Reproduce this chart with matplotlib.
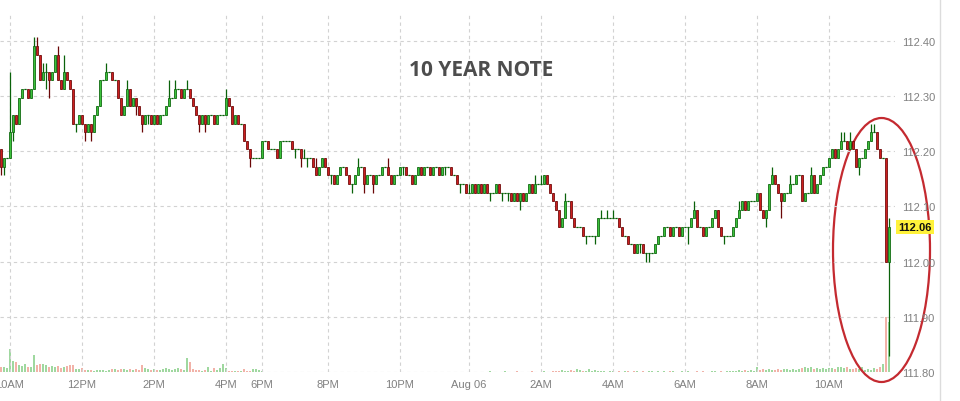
import numpy as np
import matplotlib.pyplot as plt
from matplotlib.patches import Ellipse
from matplotlib.lines import Line2D

# 5-minute bars, prices in 64ths above 112.00
first_open = 13
closes = [
    11, 12, 12, 15, 17, 16, 19, 20, 20, 19,
    20, 25, 24, 21, 22, 22, 21, 22, 24, 21,
    20, 22, 21, 20, 16, 16, 17, 16, 15, 16,
    15, 17, 18, 21, 21, 22, 22, 21, 21, 19,
    17, 18, 20, 18, 19, 18, 17, 16, 17, 17,
    16, 17, 16, 17, 17, 18, 19, 19, 20, 20,
    19, 20, 20, 19, 18, 17, 16, 17, 16, 17,
    17, 16, 17, 17, 17, 19, 18, 16, 17, 16,
    16, 14, 13, 12, 12, 12, 12, 14, 14, 13,
    13, 13, 12, 14, 14, 14, 14, 13, 13, 13,
    12, 12, 12, 12, 11, 10, 11, 12, 11, 10,
    10, 9, 10, 11, 11, 10, 9, 9, 10, 11,
    11, 9, 10, 10, 9, 10, 10, 11, 11, 10,
    9, 10, 10, 11, 11, 10, 10, 9, 10, 11,
    10, 11, 11, 10, 11, 11, 10, 11, 11, 11,
    10, 10, 9, 9, 9, 8, 8, 9, 8, 9,
    8, 9, 8, 8, 8, 9, 8, 8, 8, 8,
    7, 8, 7, 8, 7, 8, 9, 8, 9, 9,
    9, 10, 9, 8, 7, 6, 4, 5, 7, 7,
    5, 4, 4, 4, 3, 3, 3, 3, 3, 5,
    5, 5, 5, 5, 5, 5, 4, 3, 3, 2,
    2, 1, 2, 2, 1, 1, 1, 1, 2, 3,
    3, 4, 4, 3, 4, 4, 3, 4, 4, 4,
    5, 6, 4, 4, 3, 4, 4, 5, 6, 4,
    3, 3, 3, 3, 4, 5, 6, 7, 6, 7,
    7, 7, 8, 6, 5, 6, 9, 10, 9, 8,
    7, 8, 8, 9, 9, 10, 10, 7, 8, 8,
    10, 8, 9, 10, 11, 11, 12, 13, 12, 13,
    14, 14, 13, 14, 13, 11, 12, 12, 13, 14,
    15, 15, 13, 12, 12, 0, 4,
]
# wick extremes (64ths) where they stick out of the body
wick_high = {3: 22, 11: 26, 12: 26, 14: 23, 15: 23, 19: 25, 21: 24, 35: 23,
             37: 22, 42: 21, 56: 21, 58: 21, 62: 21, 75: 20, 101: 13, 105: 12,
             119: 12, 129: 12, 156: 9, 178: 10, 180: 10, 188: 8, 200: 6,
             202: 6, 204: 6, 231: 7, 246: 7, 257: 11, 263: 10, 270: 11,
             280: 15, 281: 15, 283: 15, 290: 16, 291: 16, 296: 5}
wick_low = {0: 10, 1: 10, 4: 14, 15: 20, 16: 19, 25: 15, 28: 14, 30: 14,
            45: 17, 47: 15, 49: 16, 66: 15, 68: 15, 83: 11, 98: 12, 100: 11,
            102: 11, 110: 9, 117: 8, 121: 8, 124: 8, 134: 10, 148: 10,
            153: 8, 163: 7, 167: 7, 169: 7, 173: 6, 195: 2, 198: 2, 213: 1,
            215: 0, 216: 0, 229: 2, 241: 2, 255: 4, 260: 5, 286: 10, 296: -11}
volume = [
    5, 5, 4, 23, 11, 10, 7, 6, 8, 5,
    5, 17, 7, 8, 8, 7, 5, 6, 5, 6,
    4, 5, 6, 7, 7, 3, 3, 4, 2, 2,
    2, 1, 2, 2, 2, 1, 2, 3, 3, 2,
    3, 3, 2, 3, 2, 3, 2, 7, 4, 3,
    2, 3, 2, 2, 3, 4, 3, 2, 3, 4,
    3, 2, 14, 10, 3, 2, 2, 1, 2, 5,
    1, 4, 2, 4, 8, 4, 1, 1, 1, 1,
    1, 3, 1, 1, 3, 3, 2, 1, 0, 0,
    0, 0, 0, 0, 0, 0, 0, 0, 0, 0,
    0, 0, 0, 0, 0, 0, 0, 0, 0, 0,
    0, 0, 0, 0, 0, 0, 0, 0, 0, 0,
    0, 0, 0, 0, 0, 0, 0, 0, 0, 0,
    0, 0, 0, 0, 0, 0, 0, 0, 0, 0,
    0, 0, 0, 0, 0, 0, 0, 0, 0, 0,
    0, 0, 0, 0, 0, 0, 0, 0, 0, 0,
    0, 0, 0, 1, 0, 0, 0, 0, 1, 0,
    0, 0, 1, 0, 0, 0, 0, 1, 0, 0,
    0, 1, 0, 0, 1, 1, 1, 2, 1, 1,
    2, 1, 3, 2, 1, 1, 3, 1, 2, 1,
    1, 1, 0, 1, 1, 0, 1, 0, 1, 1,
    0, 1, 1, 0, 1, 0, 1, 1, 0, 1,
    0, 1, 0, 1, 1, 0, 0, 1, 0, 1,
    0, 0, 1, 0, 1, 0, 0, 1, 1, 0,
    1, 0, 1, 1, 1, 1, 2, 1, 2, 1,
    2, 1, 5, 2, 3, 2, 3, 2, 2, 3,
    2, 3, 3, 2, 3, 2, 3, 4, 5, 4,
    5, 3, 4, 3, 4, 3, 4, 4, 3, 5,
    5, 4, 5, 3, 3, 4, 3, 5, 2, 3,
    2, 4, 3, 5, 8, 55, 50,
]
tick_bars = [3, 27, 51, 75, 87, 109, 133, 156, 180, 204, 228, 252, 276]
tick_labels = ['10AM', '12PM', '2PM', '4PM', '6PM', '8PM', '10PM', 'Aug 06',
               '2AM', '4AM', '6AM', '8AM', '10AM']
price_ticks = [111.80, 111.90, 112.00, 112.10, 112.20, 112.30, 112.40]

c_t = np.array(closes)
o_t = np.array([first_open] + closes[:-1])
h_t = np.maximum(o_t, c_t)
l_t = np.minimum(o_t, c_t)
for k, v in wick_high.items():
    h_t[k] = v
for k, v in wick_low.items():
    l_t[k] = v
o = 112 + o_t / 64
c = 112 + c_t / 64
h = 112 + h_t / 64
l = 112 + l_t / 64
x = np.arange(len(closes))
up = c >= o

fig = plt.figure(figsize=(9.6, 4.02), dpi=100)
ax = fig.add_axes([0, 29 / 402, 895 / 960, 360 / 402])
vax = ax.twinx()
ax.set_zorder(vax.get_zorder() + 1)
ax.patch.set_visible(False)

# volume
vax.bar(x, volume, width=0.9, color=np.where(up, '#9fd89f', '#f2b2a8'), linewidth=0)
vax.set_ylim(0, 360)
vax.set_yticks([])
for s in vax.spines.values():
    s.set_visible(False)

# grid
for p in price_ticks:
    ax.axhline(p, color='#d2d2d2', lw=0.8, ls=(0, (3, 3)), zorder=0)
for t in tick_bars:
    ax.axvline(t, color='#d2d2d2', lw=0.8, ls=(0, (3, 3)), zorder=0)

# candles
green_fill, green_edge = '#3cc23c', '#0a620a'
red_fill, red_edge = '#cc1f1f', '#6a0707'
edge = np.where(up, green_edge, red_edge)
ax.vlines(x, l, h, colors=edge, lw=0.9, zorder=2)
body = np.abs(c - o)
ax.bar(x, body, bottom=np.minimum(o, c), width=0.85,
       color=np.where(up, green_fill, red_fill), edgecolor=edge, linewidth=0.55, zorder=3)
flat = body == 0
ax.hlines(c[flat], x[flat] - 0.45, x[flat] + 0.45, colors=edge[flat], lw=0.9, zorder=3)

ax.set_xlim(-1 / 3, 298)
ax.set_ylim(111.80, 111.80 + 360 / 552)
for s in ax.spines.values():
    s.set_visible(False)
ax.yaxis.tick_right()
ax.set_yticks(price_ticks)
ax.set_yticklabels([f'{p:.2f}' for p in price_ticks])
ax.set_xticks(tick_bars)
ax.set_xticklabels(tick_labels)
ax.tick_params(length=0, colors='#808080', labelsize=8, pad=5)
for lab in ax.get_xticklabels() + ax.get_yticklabels():
    lab.set_family('Liberation Sans')

ax.text(1.0035, c[-1], f'{c[-1]:.2f}', transform=ax.get_yaxis_transform(),
        ha='left', va='center', fontsize=8, fontweight='bold', color='#111111',
        family='Liberation Sans',
        bbox=dict(boxstyle='square,pad=0.18', fc='#fff23a', ec='none'))

fig.text(481 / 960, 1 - 70 / 402, '10 YEAR NOTE', ha='center', va='center',
         fontsize=15, fontweight='bold', color='#4d4d4d', family='Open Sans')

fig.add_artist(Ellipse((881.5 / 960, 1 - 251 / 402), 97 / 960, 264 / 402,
                       transform=fig.transFigure, fill=False, edgecolor='#c42a30', lw=1.6))
fig.add_artist(Line2D([939.5 / 960] * 2, [0, 1], transform=fig.transFigure,
                      color='#dcdcdc', lw=1))

fig.savefig('out.png', dpi=100)
